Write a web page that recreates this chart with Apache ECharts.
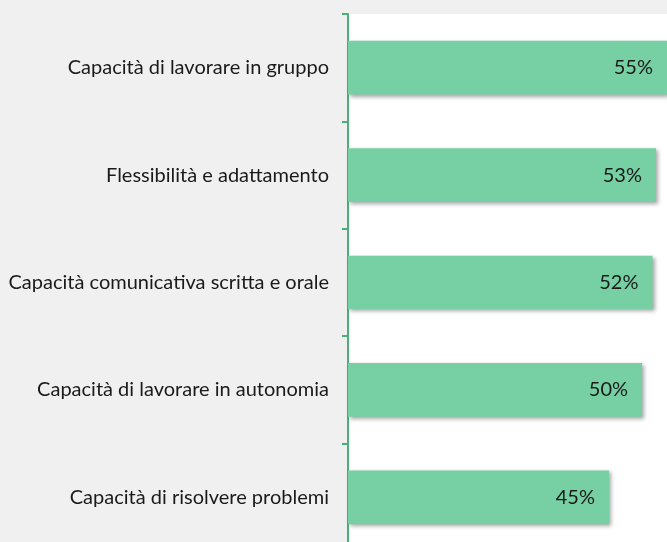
<!DOCTYPE html>
<html>
<head>
<meta charset="utf-8">
<script src="https://cdn.jsdelivr.net/npm/echarts@6/dist/echarts.min.js"></script>
<style>
html, body { margin: 0; padding: 0; background: #f0f0f0; }
#chart { width: 667px; height: 542px; }
</style>
</head>
<body>
<div id="chart"></div>
<script>
var categories = [
    'Capacità di lavorare in gruppo',
    'Flessibilità e adattamento',
    'Capacità comunicativa scritta e orale',
    'Capacità di lavorare in autonomia',
    'Capacità di risolvere problemi'
];
var values = [55.3, 53.1, 52.5, 50.7, 45];
var labels = ['55%', '53%', '52%', '50%', '45%'];

var chart = echarts.init(document.getElementById('chart'));

chart.setOption({
    backgroundColor: '#f0f0f0',
    animation: false,
    grid: {
        left: 348,
        right: 0,
        top: 14,
        height: 537,
        outerBoundsMode: 'none',
        show: true,
        backgroundColor: '#ffffff',
        borderWidth: 0
    },
    xAxis: {
        type: 'value',
        min: 0,
        max: 55,
        show: false
    },
    yAxis: {
        type: 'category',
        data: categories,
        inverse: true,
        axisLine: { lineStyle: { color: '#4caf78', width: 2 } },
        axisTick: { show: true, length: 6, lineStyle: { color: '#4caf78', width: 2 } },
        axisLabel: {
            margin: 19,
            color: '#1a1a1a',
            fontFamily: 'Lato',
            fontSize: 20
        }
    },
    series: [{
        type: 'bar',
        data: values,
        barWidth: '50%',
        itemStyle: {
            color: '#76d0a4',
            shadowColor: 'rgba(0,0,0,0.35)',
            shadowBlur: 4,
            shadowOffsetX: 2,
            shadowOffsetY: 2
        },
        label: {
            show: true,
            position: 'insideRight',
            distance: 14,
            color: '#1a1a1a',
            fontFamily: 'Lato',
            fontSize: 20,
            formatter: function (p) { return labels[p.dataIndex]; }
        }
    }]
});
</script>
</body>
</html>
